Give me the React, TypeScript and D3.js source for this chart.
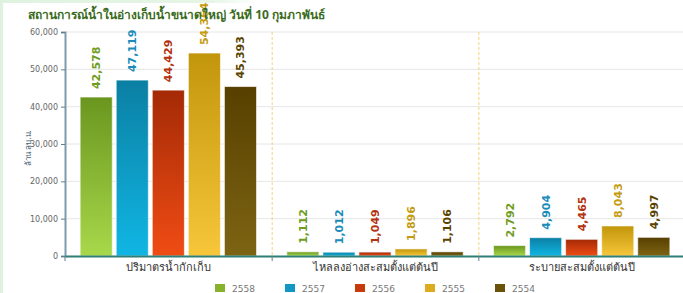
import React, { useRef, useEffect } from 'react';
import * as d3 from 'd3';

const categories = ['ปริมาตรน้ำกักเก็บ', 'ไหลลงอ่างสะสมตั้งแต่ต้นปี', 'ระบายสะสมตั้งแต่ต้นปี'];
const years = ['2558', '2557', '2556', '2555', '2554'];
const storage = [42578, 47119, 44429, 54364, 45393];
const inflow = [1112, 1012, 1049, 1896, 1106];
const release = [2792, 4904, 4465, 8043, 4997];
const yTicks = [0, 10000, 20000, 30000, 40000, 50000, 60000];

const seriesValues = [storage, inflow, release];

// top / bottom colours of each year's gradient, plus label colour
const barTop = ['#6a961f', '#0b7fa3', '#a42a06', '#c2960b', '#574000'];
const barBottom = ['#a8d84a', '#10b6e4', '#f04c14', '#f7c63a', '#7d6413'];
const labelColor = ['#6f9c22', '#1a8cba', '#b3320f', '#c49c12', '#5a4300'];
const legendColor = ['#86b22e', '#1296c4', '#c83a0c', '#dcab20', '#6a5208'];

const App: React.FC = () => {
  const ref = useRef<SVGSVGElement | null>(null);

  useEffect(() => {
    if (!ref.current) return;
    const width = 683;
    const height = 293;
    const margin = { top: 32, right: -2, bottom: 37, left: 65 };

    const svg = d3.select(ref.current);
    svg.selectAll('*').remove();

    const defs = svg.append('defs');
    years.forEach((y, i) => {
      const g = defs.append('linearGradient')
        .attr('id', `grad${i}`)
        .attr('x1', 0).attr('y1', 0).attr('x2', 0).attr('y2', 1);
      g.append('stop').attr('offset', '0%').attr('stop-color', barTop[i]);
      g.append('stop').attr('offset', '100%').attr('stop-color', barBottom[i]);
    });
    const edge = defs.append('linearGradient').attr('id', 'edgeTop')
      .attr('x1', 0).attr('x2', 1).attr('y1', 0).attr('y2', 0);
    edge.append('stop').attr('offset', '0%').attr('stop-color', '#dff2df');
    edge.append('stop').attr('offset', '80%').attr('stop-color', '#e6f5e6');
    edge.append('stop').attr('offset', '100%').attr('stop-color', '#ffffff');

    svg.append('rect').attr('width', width).attr('height', height).attr('fill', '#fff');
    svg.append('rect').attr('x', 0).attr('y', 0).attr('width', 3).attr('height', height).attr('fill', '#dff2df');
    svg.append('rect').attr('x', 0).attr('y', 0).attr('width', 260).attr('height', 3).attr('fill', 'url(#edgeTop)');

    const x0 = d3.scaleBand<string>()
      .domain(categories)
      .range([margin.left, width - margin.right])
      .padding(0);

    const x1 = d3.scaleBand<string>()
      .domain(years)
      .range([0, x0.bandwidth()])
      .paddingInner(0.11)
      .paddingOuter(0.42);

    const y = d3.scaleLinear()
      .domain([0, 60000])
      .range([height - margin.bottom, margin.top]);

    // grid lines
    svg.append('g')
      .selectAll('line')
      .data(yTicks.slice(1))
      .enter()
      .append('line')
      .attr('x1', margin.left)
      .attr('x2', width)
      .attr('y1', (d) => y(d))
      .attr('y2', (d) => y(d))
      .attr('stroke', '#e6e6e6')
      .attr('stroke-width', 1);

    // dashed separators between groups
    svg.append('g')
      .selectAll('line')
      .data(categories.slice(1))
      .enter()
      .append('line')
      .attr('x1', (d) => (x0(d) || 0) + 0.5)
      .attr('x2', (d) => (x0(d) || 0) + 0.5)
      .attr('y1', margin.top)
      .attr('y2', y(0))
      .attr('stroke', '#f3d27a')
      .attr('stroke-width', 1)
      .attr('stroke-dasharray', '3,2');

    // bars
    categories.forEach((cat, ci) => {
      const g = svg.append('g').attr('transform', `translate(${x0(cat)},0)`);
      const vals = years.map((yr, i) => ({ yr, i, v: seriesValues[ci][i] }));

      g.selectAll('rect')
        .data(vals)
        .enter()
        .append('rect')
        .attr('x', (d) => x1(d.yr) || 0)
        .attr('y', (d) => y(d.v))
        .attr('width', x1.bandwidth())
        .attr('height', (d) => y(0) - y(d.v))
        .attr('fill', (d) => `url(#grad${d.i})`)
        .attr('stroke', 'rgba(255,255,255,0.6)')
        .attr('stroke-width', 1);

      g.selectAll('text')
        .data(vals)
        .enter()
        .append('text')
        .attr('transform', (d) => `translate(${(x1(d.yr) || 0) + x1.bandwidth() / 2 + 4},${y(d.v) - 8}) rotate(-90)`)
        .attr('text-anchor', 'start')
        .style('font-family', '"DejaVu Sans", Verdana, sans-serif')
        .style('font-size', '11px')
        .style('font-weight', 'bold')
        .attr('fill', (d) => labelColor[d.i])
        .text((d) => d3.format(',')(d.v));
    });

    // y axis
    const yAxis = svg.append('g')
      .attr('transform', `translate(${margin.left},0)`)
      .call(d3.axisLeft(y).tickValues(yTicks).tickSize(4).tickFormat(d3.format(',') as any));
    yAxis.select('.domain').attr('stroke', '#7a9cac').attr('stroke-width', 2);
    yAxis.selectAll('.tick line').attr('stroke', '#5f7f8f');
    yAxis.selectAll('.tick text')
      .attr('fill', '#666')
      .style('font-family', '"DejaVu Sans", sans-serif')
      .style('font-size', '8px');

    // x axis
    const xAxis = svg.append('g')
      .attr('transform', `translate(0,${y(0)})`)
      .call(d3.axisBottom(x0).tickSize(0).tickSizeOuter(0));
    xAxis.select('.domain').attr('stroke', '#2e7f75').attr('stroke-width', 2);
    xAxis.selectAll('.tick text')
      .attr('dy', '1.1em')
      .attr('fill', '#333')
      .style('font-family', '"Noto Sans", "DejaVu Sans", sans-serif')
      .style('font-size', '11px');
    xAxis.selectAll('.tick-sep')
      .data(categories.slice(1))
      .enter()
      .append('line')
      .attr('x1', (d) => (x0(d) || 0) + 0.5)
      .attr('x2', (d) => (x0(d) || 0) + 0.5)
      .attr('y1', 0)
      .attr('y2', 5)
      .attr('stroke', '#5f7f8f');
    xAxis.append('line')
      .attr('x1', margin.left).attr('x2', margin.left)
      .attr('y1', 0).attr('y2', 5)
      .attr('stroke', '#5f7f8f');

    // y axis title
    svg.append('text')
      .attr('transform', `translate(31,${y(30000) + 4}) rotate(-90)`)
      .attr('text-anchor', 'middle')
      .attr('fill', '#4a5f6f')
      .style('font-family', '"Noto Sans", sans-serif')
      .style('font-size', '8px')
      .text('ล้าน ลบ.ม.');

    // title
    svg.append('text')
      .attr('x', 28)
      .attr('y', 19)
      .attr('fill', '#3a6a1c')
      .style('font-family', '"Noto Sans", sans-serif')
      .style('font-size', '12px')
      .style('font-weight', 'bold')
      .text('สถานการณ์น้ำในอ่างเก็บน้ำขนาดใหญ่ วันที่ 10 กุมภาพันธ์');

    // legend
    const legend = svg.append('g');
    years.forEach((yr, i) => {
      const lx = 215 + i * 70;
      legend.append('rect')
        .attr('x', lx).attr('y', 284).attr('width', 10).attr('height', 8)
        .attr('fill', legendColor[i]);
      legend.append('text')
        .attr('x', lx + 17).attr('y', 292)
        .attr('fill', '#777')
        .style('font-family', '"DejaVu Sans", sans-serif')
        .style('font-size', '9px')
        .text(yr);
    });
  }, []);

  return (
    <div style={{ position: 'absolute', left: 0, top: 0 }}>
      <svg ref={ref} width={683} height={293} style={{ display: 'block' }} />
    </div>
  );
};

export default App;
